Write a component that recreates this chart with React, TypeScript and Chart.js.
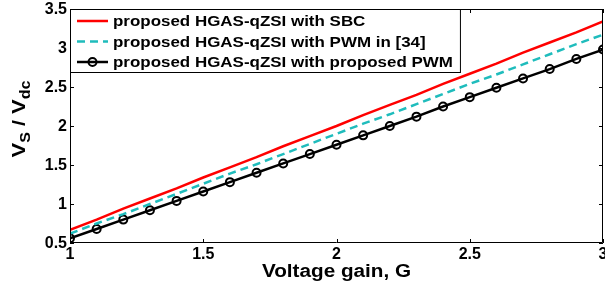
import React, { useEffect, useRef } from "react";
import { Chart, registerables } from "chart.js";
Chart.register(...registerables);

const gainG = [1.0, 1.1, 1.2, 1.3, 1.4, 1.5, 1.6, 1.7, 1.8, 1.9, 2.0, 2.1, 2.2, 2.3, 2.4, 2.5, 2.6, 2.7, 2.8, 2.9, 3.0];
const sbcValues = [0.67, 0.80, 0.94, 1.07, 1.20, 1.34, 1.47, 1.60, 1.74, 1.87, 2.00, 2.14, 2.27, 2.40, 2.54, 2.67, 2.80, 2.94, 3.07, 3.20, 3.34];
const pwm34Values = [0.62, 0.75, 0.87, 1.00, 1.13, 1.26, 1.39, 1.51, 1.64, 1.77, 1.90, 2.03, 2.15, 2.28, 2.41, 2.54, 2.66, 2.79, 2.92, 3.05, 3.17];
const proposedValues = [0.56, 0.68, 0.80, 0.92, 1.04, 1.16, 1.28, 1.40, 1.52, 1.64, 1.76, 1.88, 2.00, 2.12, 2.25, 2.37, 2.49, 2.61, 2.73, 2.86, 2.98];
const seriesLabels = [
  "proposed HGAS-qZSI with SBC",
  "proposed HGAS-qZSI with PWM in [34]",
  "proposed HGAS-qZSI with proposed PWM",
];
const xTitle = "Voltage gain, G";

const FONT = "'Liberation Sans', Arial, sans-serif";
const fmt = (v: any) => `${Number(v)}`;

const framePlugin = {
  id: "frameTicks",
  afterDatasetsDraw(chart: any) {
    const { ctx, chartArea } = chart;
    const { left, right, top, bottom } = chartArea;
    const xs = chart.scales.x;
    const ys = chart.scales.y;
    ctx.save();
    ctx.strokeStyle = "#000";
    ctx.lineWidth = 1;
    ctx.beginPath();
    ctx.rect(left + 0.5, top + 0.5, right - left - 1, bottom - top - 1);
    ctx.stroke();
    const tl = 4;
    ctx.beginPath();
    xs.ticks.forEach((t: any) => {
      const px = Math.round(xs.getPixelForValue(t.value)) + 0.5;
      ctx.moveTo(px, bottom);
      ctx.lineTo(px, bottom - tl);
      ctx.moveTo(px, top);
      ctx.lineTo(px, top + tl);
    });
    ys.ticks.forEach((t: any) => {
      const py = Math.round(ys.getPixelForValue(t.value)) + 0.5;
      ctx.moveTo(left, py);
      ctx.lineTo(left + tl, py);
      ctx.moveTo(right, py);
      ctx.lineTo(right - tl, py);
    });
    ctx.stroke();
    // tick labels
    ctx.fillStyle = "#000";
    ctx.font = `bold 16px ${FONT}`;
    ctx.textAlign = "center";
    ctx.textBaseline = "top";
    xs.ticks.forEach((t: any) => {
      ctx.fillText(fmt(t.value), xs.getPixelForValue(t.value), bottom + 4);
    });
    ctx.textAlign = "right";
    ctx.textBaseline = "middle";
    ys.ticks.forEach((t: any) => {
      ctx.fillText(fmt(t.value), left - 3, ys.getPixelForValue(t.value) + 1);
    });
    ctx.restore();
  },
  afterDraw(chart: any) {
    const { ctx, chartArea } = chart;
    const { left, top, right, bottom } = chartArea;
    // Legend
    ctx.save();
    const fs = 15;
    const sx = 1.13;
    ctx.font = `bold ${fs}px ${FONT}`;
    const textStart = left + 43;
    let maxW = 0;
    seriesLabels.forEach((s) => {
      maxW = Math.max(maxW, ctx.measureText(s).width * sx);
    });
    const boxR = textStart + maxW + 7;
    const boxB = top + 63;
    ctx.fillStyle = "#fff";
    ctx.fillRect(left, top, boxR - left, boxB - top);
    ctx.strokeStyle = "#000";
    ctx.lineWidth = 1;
    ctx.strokeRect(left + 0.5, top + 0.5, boxR - left, boxB - top);
    const rows = [top + 12, top + 32.5, top + 53];
    chart.data.datasets.forEach((ds: any, i: number) => {
      const y = rows[i];
      ctx.save();
      ctx.strokeStyle = ds.borderColor;
      ctx.lineWidth = ds.borderWidth;
      ctx.setLineDash(ds.borderDash || []);
      ctx.beginPath();
      ctx.moveTo(left + 7, y);
      ctx.lineTo(left + 38, y);
      ctx.stroke();
      ctx.setLineDash([]);
      if (ds.pointRadius > 0) {
        ctx.lineWidth = ds.pointBorderWidth;
        ctx.beginPath();
        ctx.arc(left + 22.5, y, ds.pointRadius, 0, Math.PI * 2);
        ctx.stroke();
      }
      ctx.restore();
      ctx.save();
      ctx.fillStyle = "#000";
      ctx.textBaseline = "middle";
      ctx.translate(textStart, y + 1);
      ctx.scale(sx, 1);
      ctx.fillText(seriesLabels[i], 0, 0);
      ctx.restore();
    });
    ctx.restore();

    // X title
    ctx.save();
    ctx.font = `bold 18px ${FONT}`;
    ctx.fillStyle = "#000";
    ctx.textBaseline = "middle";
    ctx.textAlign = "center";
    ctx.translate((left + right) / 2, 272);
    ctx.scale(1.15, 1);
    ctx.fillText(xTitle, 0, 0);
    ctx.restore();

    // Y title: V_S / V_dc
    ctx.save();
    const cx = 20;
    const cy = (top + bottom) / 2 - 7;
    ctx.translate(cx, cy);
    ctx.rotate(-Math.PI / 2);
    ctx.fillStyle = "#000";
    ctx.textBaseline = "middle";
    const big = `bold 19px ${FONT}`;
    const small = `bold 14px ${FONT}`;
    const parts = [
      { t: "V", f: big, dy: 0 },
      { t: "S", f: small, dy: 6 },
      { t: " / ", f: big, dy: 0 },
      { t: "V", f: big, dy: 0 },
      { t: "dc", f: small, dy: 6 },
    ];
    const ysx = 1.15;
    let total = 0;
    parts.forEach((p) => {
      ctx.font = p.f;
      total += ctx.measureText(p.t).width * ysx;
    });
    let x = -total / 2;
    parts.forEach((p) => {
      ctx.font = p.f;
      const w = ctx.measureText(p.t).width * ysx;
      ctx.save();
      ctx.translate(x, p.dy);
      ctx.scale(ysx, 1);
      ctx.fillText(p.t, 0, 0);
      ctx.restore();
      x += w;
    });
    ctx.restore();
  },
};

export default function App() {
  const ref = useRef<HTMLCanvasElement | null>(null);
  useEffect(() => {
    if (!ref.current) return;
    const mk = (vals: number[]) => gainG.map((g, i) => ({ x: g, y: vals[i] }));
    const chart = new Chart(ref.current, {
      type: "line",
      data: {
        datasets: [
          {
            label: seriesLabels[0],
            data: mk(sbcValues),
            borderColor: "#ff0000",
            borderWidth: 2.5,
            pointRadius: 0,
            pointBorderWidth: 0,
          },
          {
            label: seriesLabels[1],
            data: mk(pwm34Values),
            borderColor: "#1fbcbc",
            borderWidth: 2.5,
            borderDash: [8, 5],
            pointRadius: 0,
            pointBorderWidth: 0,
          },
          {
            label: seriesLabels[2],
            data: mk(proposedValues),
            borderColor: "#000000",
            borderWidth: 2.5,
            pointRadius: 4,
            pointBorderWidth: 2,
            pointBorderColor: "#000",
            pointBackgroundColor: "rgba(0,0,0,0)",
          },
        ] as any,
      },
      options: {
        animation: false,
        responsive: false,
        layout: { autoPadding: false, padding: { top: 9, right: 2, left: 0, bottom: 0 } },
        plugins: { legend: { display: false }, tooltip: { enabled: false }, title: { display: false } },
        scales: {
          x: {
            type: "linear",
            min: 1,
            max: 3,
            grid: { display: false, drawTicks: false },
            border: { display: false },
            ticks: { stepSize: 0.5, display: false },
            afterFit: (s: any) => {
              s.height = 45;
            },
          },
          y: {
            type: "linear",
            min: 0.5,
            max: 3.5,
            grid: { display: false, drawTicks: false },
            border: { display: false },
            ticks: { stepSize: 0.5, display: false },
            afterFit: (s: any) => {
              s.width = 70;
            },
          },
        },
      } as any,
      plugins: [framePlugin],
    });
    return () => chart.destroy();
  }, []);
  return (
    <div style={{ position: "absolute", left: 0, top: 0, width: 605, height: 288, background: "#fff" }}>
      <canvas ref={ref} width={605} height={288} style={{ display: "block" }} />
    </div>
  );
}
